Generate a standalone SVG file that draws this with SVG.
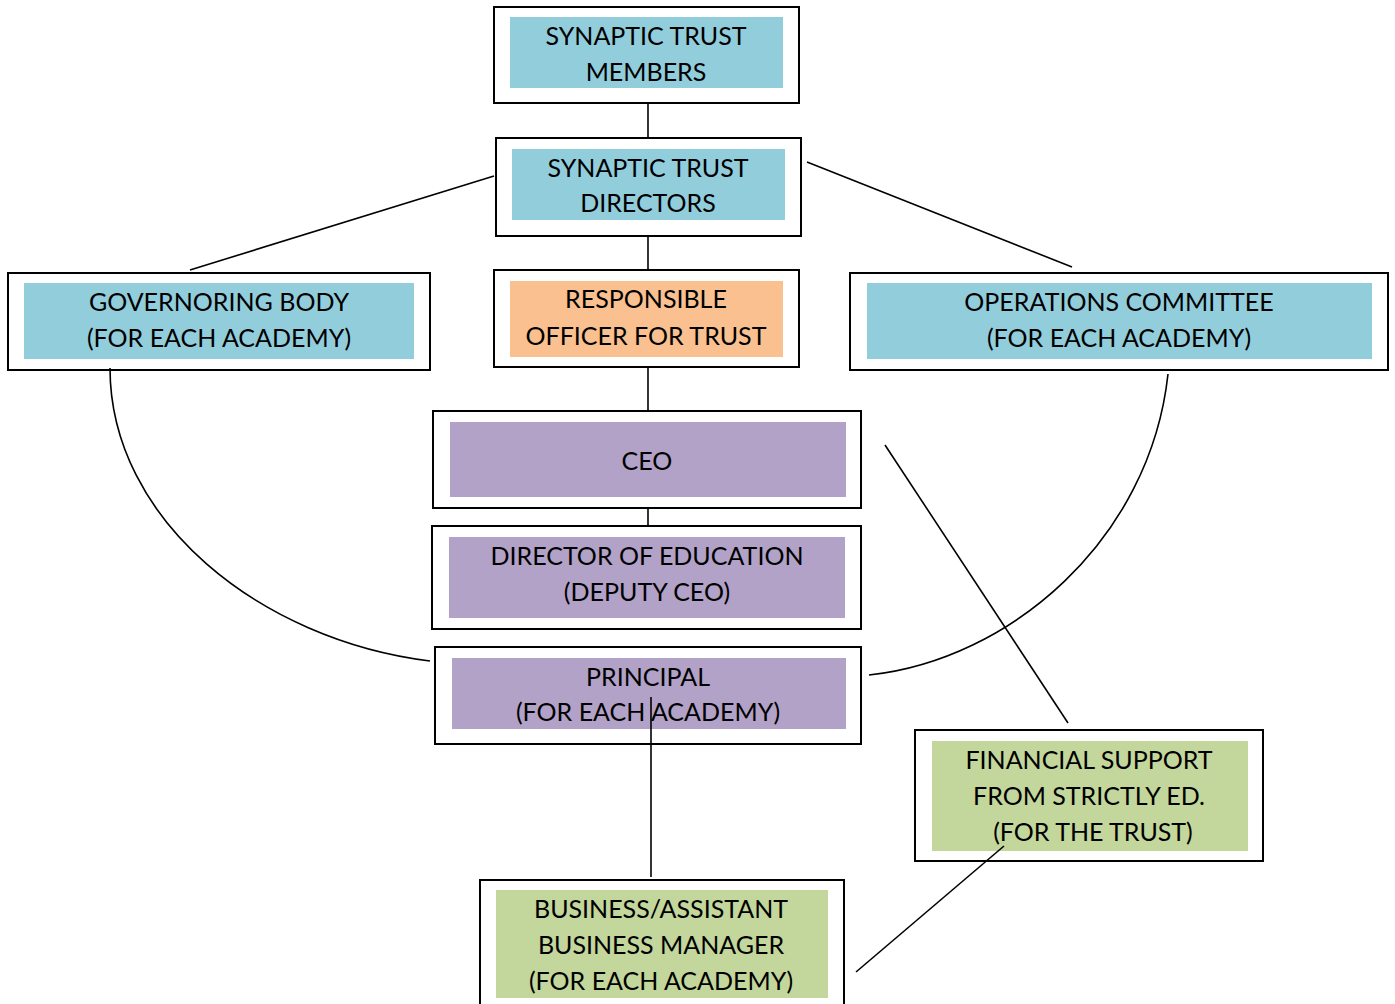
<svg xmlns="http://www.w3.org/2000/svg" width="1395" height="1004" viewBox="0 0 1395 1004">
<style>
.frame{fill:#fff;stroke:#000;stroke-width:2}
.blue{fill:#92CDDC}.orange{fill:#FAC090}.purple{fill:#B2A2C7}.green{fill:#C3D69B}
text{font-family:Lato,"Open Sans","Liberation Sans",sans-serif;font-size:25px;fill:#000;text-anchor:middle}
.c{fill:none;stroke:#000;stroke-width:1.6}
</style>
<rect width="1395" height="1004" fill="#fff"/>
<g id="n1"><rect class="frame" x="494" y="7" width="305" height="96"/><rect class="blue" x="510" y="17" width="273" height="71"/><text x="646" y="45">SYNAPTIC TRUST</text><text x="646" y="81">MEMBERS</text></g>
<g id="n2"><rect class="frame" x="496" y="138" width="305" height="98"/><rect class="blue" x="512" y="149" width="273" height="71"/><text x="648" y="177">SYNAPTIC TRUST</text><text x="648" y="212">DIRECTORS</text></g>
<g id="n3"><rect class="frame" x="8" y="273" width="422" height="97"/><rect class="blue" x="24" y="283" width="390" height="76"/><text x="219" y="311">GOVERNORING BODY</text><text x="219" y="347">(FOR EACH ACADEMY)</text></g>
<g id="n4"><rect class="frame" x="494" y="270" width="305" height="97"/><rect class="orange" x="510" y="281" width="273" height="76"/><text x="646" y="308">RESPONSIBLE</text><text x="646" y="345">OFFICER FOR TRUST</text></g>
<g id="n5"><rect class="frame" x="850" y="273" width="538" height="97"/><rect class="blue" x="867" y="283" width="505" height="76"/><text x="1119" y="311">OPERATIONS COMMITTEE</text><text x="1119" y="347">(FOR EACH ACADEMY)</text></g>
<g id="n6"><rect class="frame" x="433" y="411" width="428" height="97"/><rect class="purple" x="450" y="422" width="396" height="75"/><text x="647" y="470">CEO</text></g>
<g id="n7"><rect class="frame" x="432" y="526" width="429" height="103"/><rect class="purple" x="449" y="537" width="396" height="81"/><text x="647" y="565">DIRECTOR OF EDUCATION</text><text x="647" y="601">(DEPUTY CEO)</text></g>
<g id="n8"><rect class="frame" x="435" y="647" width="426" height="97"/><rect class="purple" x="452" y="658" width="394" height="71"/><text x="648" y="686">PRINCIPAL</text><text x="648" y="721">(FOR EACH ACADEMY)</text></g>
<g id="n9"><rect class="frame" x="915" y="730" width="348" height="131"/><rect class="green" x="932" y="741" width="316" height="110"/><text x="1089" y="769">FINANCIAL SUPPORT</text><text x="1089" y="805">FROM STRICTLY ED.</text><text x="1093" y="841">(FOR THE TRUST)</text></g>
<g id="n10"><rect class="frame" x="480" y="880" width="364" height="130"/><rect class="green" x="496" y="890" width="332" height="108"/><text x="661" y="918">BUSINESS/ASSISTANT</text><text x="661" y="954">BUSINESS MANAGER</text><text x="661" y="990">(FOR EACH ACADEMY)</text></g>
<g id="connectors">
<line class="c" x1="648" y1="103" x2="648" y2="138"/>
<line class="c" x1="648" y1="236" x2="648" y2="270"/>
<line class="c" x1="648" y1="367" x2="648" y2="411"/>
<line class="c" x1="648" y1="508" x2="648" y2="526"/>
<line class="c" x1="494" y1="176" x2="190" y2="270"/>
<line class="c" x1="807" y1="162" x2="1072" y2="267"/>
<path class="c" d="M110,368 C110,520 260,640 430,661"/>
<path class="c" d="M1168,374 C1150,540 1010,660 869,675"/>
<line class="c" x1="885" y1="445" x2="1068" y2="723"/>
<line class="c" x1="651" y1="697" x2="651" y2="877"/>
<line class="c" x1="1004" y1="846" x2="856" y2="972"/>
</g>
</svg>
